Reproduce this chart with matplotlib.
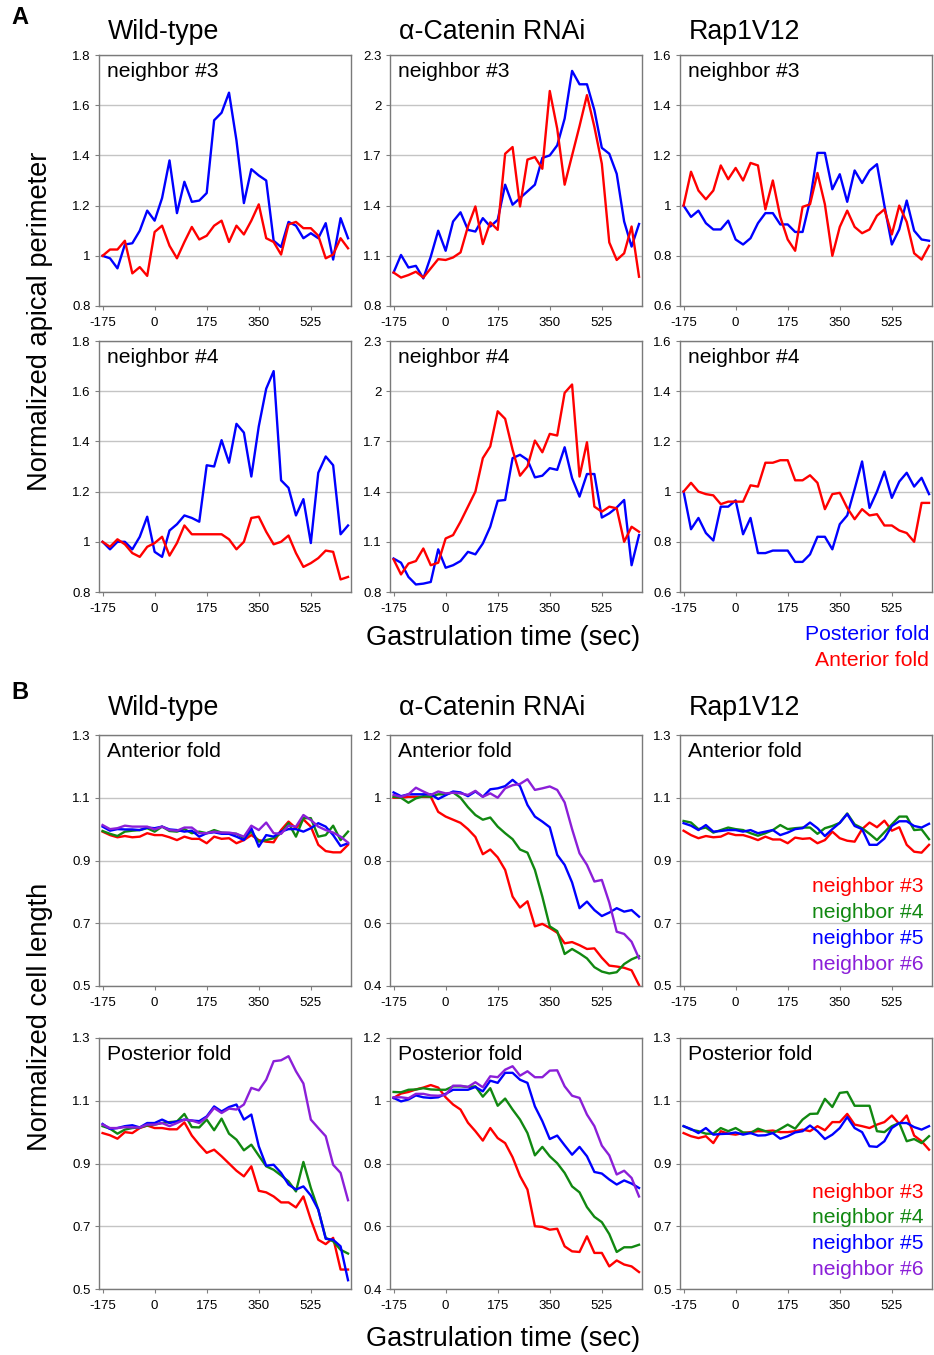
"""
plot.py

Apical perimeter and cell length of fold neighbours during gastrulation.
"""

import matplotlib
matplotlib.use("Agg")
import matplotlib.pyplot as plt
import numpy as np


plt.rcParams["font.family"] = ["Liberation Sans", "DejaVu Sans"]

# time axis (sec), one sample every 25 s
TIME_SEC = np.arange(-175, 651, 25)
X_TICKS = [-175, 0, 175, 350, 525]

GENOTYPES = ["Wild-type", "α-Catenin RNAi", "Rap1V12"]

# ---- panel A : normalized apical perimeter (posterior / anterior fold) ----
WT_N3_POST = [1.00, 0.99, 0.95, 1.045, 1.05, 1.10, 1.18, 1.14, 1.23, 1.38,
              1.17, 1.295, 1.215, 1.22, 1.25, 1.54, 1.57, 1.65, 1.46, 1.21,
              1.345, 1.32, 1.30, 1.06, 1.035, 1.135, 1.12, 1.07, 1.09, 1.07,
              1.13, 0.985, 1.15, 1.07]
WT_N3_ANT = [1.00, 1.025, 1.025, 1.06, 0.93, 0.955, 0.92, 1.095, 1.12, 1.04,
             0.99, 1.055, 1.115, 1.065, 1.08, 1.12, 1.14, 1.055, 1.12, 1.085,
             1.14, 1.205, 1.07, 1.055, 1.005, 1.125, 1.135, 1.11, 1.11, 1.08,
             0.99, 1.005, 1.07, 1.03]
WT_N4_POST = [1.00, 0.97, 1.00, 1.00, 0.97, 1.02, 1.10, 0.96, 0.94, 1.045,
              1.07, 1.105, 1.095, 1.08, 1.305, 1.30, 1.405, 1.315, 1.47, 1.435,
              1.26, 1.46, 1.61, 1.68, 1.245, 1.215, 1.105, 1.17, 0.995, 1.275,
              1.34, 1.305, 1.03, 1.065]
WT_N4_ANT = [1.00, 0.98, 1.01, 0.99, 0.955, 0.94, 0.98, 0.995, 1.02, 0.945,
             0.995, 1.065, 1.03, 1.03, 1.03, 1.03, 1.03, 1.01, 0.97, 1.00,
             1.095, 1.10, 1.04, 0.99, 1.00, 1.025, 0.955, 0.90, 0.915, 0.935,
             0.965, 0.96, 0.85, 0.86]

CAT_N3_POST = [1.00, 1.105, 1.03, 1.04, 0.965, 1.095, 1.25, 1.13, 1.305, 1.36,
               1.255, 1.245, 1.325, 1.275, 1.315, 1.525, 1.405, 1.445, 1.485, 1.525,
               1.685, 1.70, 1.76, 1.92, 2.205, 2.125, 2.125, 1.97, 1.745, 1.71,
               1.59, 1.305, 1.155, 1.29]
CAT_N3_ANT = [1.00, 0.97, 0.985, 1.005, 0.97, 1.025, 1.08, 1.075, 1.09, 1.12,
              1.275, 1.395, 1.17, 1.30, 1.255, 1.71, 1.75, 1.395, 1.675, 1.69,
              1.62, 2.085, 1.86, 1.525, 1.70, 1.875, 2.06, 1.87, 1.65, 1.18,
              1.075, 1.115, 1.275, 0.975]
CAT_N4_POST = [1.00, 0.975, 0.89, 0.845, 0.85, 0.86, 1.055, 0.945, 0.96, 0.985,
               1.04, 1.025, 1.09, 1.19, 1.345, 1.35, 1.60, 1.62, 1.59, 1.485,
               1.495, 1.54, 1.53, 1.665, 1.48, 1.37, 1.505, 1.505, 1.245, 1.27,
               1.305, 1.35, 0.96, 1.14]
CAT_N4_ANT = [0.995, 0.905, 0.97, 0.985, 1.06, 0.96, 0.975, 1.12, 1.14, 1.22,
              1.31, 1.40, 1.60, 1.67, 1.88, 1.835, 1.65, 1.495, 1.55, 1.705,
              1.635, 1.745, 1.735, 1.99, 2.04, 1.49, 1.695, 1.31, 1.28, 1.31,
              1.30, 1.10, 1.19, 1.16]

RAP_N3_POST = [1.00, 0.955, 0.98, 0.93, 0.905, 0.905, 0.94, 0.865, 0.845, 0.87,
               0.93, 0.97, 0.97, 0.925, 0.925, 0.895, 0.895, 1.02, 1.21, 1.21,
               1.065, 1.125, 1.015, 1.14, 1.09, 1.14, 1.165, 1.00, 0.845, 0.905,
               1.02, 0.90, 0.865, 0.86]
RAP_N3_ANT = [1.00, 1.135, 1.06, 1.025, 1.06, 1.16, 1.105, 1.15, 1.10, 1.17,
              1.16, 0.985, 1.10, 0.955, 0.865, 0.82, 0.995, 1.005, 1.13, 1.005,
              0.80, 0.915, 0.98, 0.915, 0.89, 0.905, 0.96, 0.985, 0.885, 1.00,
              0.935, 0.81, 0.785, 0.84]
RAP_N4_POST = [1.00, 0.85, 0.895, 0.835, 0.805, 0.94, 0.94, 0.965, 0.83, 0.895,
               0.755, 0.755, 0.765, 0.765, 0.765, 0.72, 0.72, 0.75, 0.82, 0.82,
               0.77, 0.87, 0.905, 1.01, 1.12, 0.935, 1.00, 1.08, 0.975, 1.04,
               1.075, 1.02, 1.055, 0.99]
RAP_N4_ANT = [1.00, 1.035, 1.00, 0.99, 0.985, 0.95, 0.96, 0.96, 0.96, 1.025,
              1.02, 1.115, 1.115, 1.125, 1.125, 1.045, 1.045, 1.065, 1.035, 0.93,
              0.99, 0.995, 0.935, 0.89, 0.93, 0.905, 0.91, 0.865, 0.865, 0.845,
              0.835, 0.80, 0.955, 0.955]

# ---- panel B : normalized cell length, neighbours #3..#6 ----
WT_ANT_N3 = [0.992, 0.981, 0.974, 0.978, 0.974, 0.976, 0.987, 0.981, 0.981, 0.974,
             0.965, 0.976, 0.969, 0.969, 0.955, 0.976, 0.969, 0.971, 0.955, 0.965,
             0.981, 0.965, 0.96, 0.958, 0.997, 1.024, 1.003, 1.031, 1.008, 0.95,
             0.93, 0.926, 0.926, 0.95]
WT_ANT_N4 = [0.994, 0.985, 0.978, 0.992, 0.995, 0.997, 1.003, 0.992, 1.008, 0.994,
             0.992, 1.00, 0.987, 0.992, 0.987, 0.997, 0.989, 0.987, 0.985, 0.971,
             0.992, 0.96, 0.965, 0.971, 0.987, 1.019, 0.976, 1.035, 1.035, 0.976,
             0.981, 1.011, 0.965, 0.992]
WT_ANT_N5 = [1.008, 0.995, 1.00, 0.999, 0.999, 0.997, 1.005, 1.003, 1.008, 0.999,
             0.997, 0.992, 0.995, 0.976, 0.987, 0.99, 0.985, 0.985, 0.976, 0.965,
             1.003, 0.944, 0.981, 0.976, 0.992, 1.00, 1.00, 0.992, 1.003, 1.019,
             1.008, 0.981, 0.946, 0.955]
WT_ANT_N6 = [1.013, 1.00, 1.003, 1.011, 1.008, 1.008, 1.008, 0.999, 1.008, 0.997,
             0.995, 1.005, 1.005, 0.987, 0.987, 0.992, 0.989, 0.989, 0.985, 0.976,
             1.011, 0.997, 1.021, 0.987, 0.985, 1.011, 1.008, 1.045, 1.029, 1.008,
             0.997, 0.989, 0.976, 0.957]

CAT_ANT_N3 = [1.00, 1.00, 1.003, 1.003, 1.003, 1.003, 0.955, 0.94, 0.93, 0.92,
              0.90, 0.875, 0.82, 0.835, 0.81, 0.77, 0.685, 0.65, 0.67, 0.59,
              0.598, 0.585, 0.57, 0.536, 0.54, 0.53, 0.518, 0.52, 0.49, 0.465,
              0.462, 0.458, 0.45, 0.403]
CAT_ANT_N4 = [1.003, 1.00, 0.984, 0.998, 1.005, 1.003, 1.011, 1.011, 1.017, 1.00,
              0.97, 0.945, 0.93, 0.937, 0.908, 0.887, 0.868, 0.835, 0.825, 0.77,
              0.685, 0.59, 0.575, 0.502, 0.518, 0.504, 0.488, 0.46, 0.446, 0.44,
              0.444, 0.47, 0.485, 0.495]
CAT_ANT_N5 = [1.017, 1.005, 1.011, 1.011, 1.011, 1.011, 0.996, 1.008, 1.02, 1.017,
              1.005, 1.02, 1.003, 1.027, 1.03, 1.037, 1.057, 1.037, 0.977, 0.94,
              0.924, 0.906, 0.818, 0.786, 0.73, 0.648, 0.669, 0.642, 0.623, 0.634,
              0.648, 0.637, 0.642, 0.621]
CAT_ANT_N6 = [1.009, 1.003, 1.011, 1.032, 1.02, 1.009, 1.02, 1.014, 1.016, 1.014,
              1.009, 1.022, 1.003, 1.014, 1.00, 1.03, 1.04, 1.044, 1.059, 1.025,
              1.03, 1.036, 1.025, 0.985, 0.90, 0.823, 0.786, 0.733, 0.738, 0.666,
              0.573, 0.566, 0.541, 0.488]

RAP_ANT_N3 = [0.995, 0.981, 0.971, 0.978, 0.974, 0.976, 0.987, 0.981, 0.981, 0.974,
              0.965, 0.976, 0.967, 0.967, 0.955, 0.973, 0.969, 0.971, 0.955, 0.965,
              0.992, 0.971, 0.963, 0.96, 1.00, 1.021, 1.006, 1.027, 0.995, 1.006,
              0.95, 0.928, 0.925, 0.95]
RAP_ANT_N4 = [1.026, 1.021, 1.00, 1.005, 0.989, 0.997, 1.005, 1.00, 0.997, 0.987,
              0.979, 0.987, 0.997, 1.013, 1.00, 1.003, 1.005, 1.005, 0.985, 1.003,
              1.01, 1.02, 1.05, 1.015, 1.003, 0.985, 0.965, 0.99, 1.015, 1.04,
              1.04, 0.997, 0.999, 0.968]
RAP_ANT_N5 = [1.019, 1.011, 0.997, 1.013, 0.992, 0.994, 0.997, 0.997, 0.992, 0.997,
              0.987, 0.992, 0.997, 0.981, 0.989, 1.00, 1.003, 1.021, 1.003, 0.978,
              1.00, 1.02, 1.048, 1.01, 1.00, 0.95, 0.95, 0.97, 1.01, 1.025,
              1.025, 1.01, 1.005, 1.017]

WT_POST_N3 = [0.997, 0.99, 0.979, 1.00, 0.997, 1.013, 1.021, 1.013, 1.013, 1.009,
              1.009, 1.031, 0.989, 0.96, 0.934, 0.944, 0.923, 0.90, 0.877, 0.859,
              0.891, 0.813, 0.808, 0.795, 0.776, 0.776, 0.76, 0.795, 0.721, 0.657,
              0.643, 0.663, 0.562, 0.562]
WT_POST_N4 = [1.019, 1.011, 0.995, 1.008, 1.013, 1.015, 1.021, 1.024, 1.029, 1.032,
              1.034, 1.058, 1.016, 1.015, 1.04, 1.006, 1.043, 0.995, 0.976, 0.942,
              0.96, 0.925, 0.891, 0.88, 0.862, 0.843, 0.811, 0.905, 0.822, 0.753,
              0.663, 0.652, 0.625, 0.613]
WT_POST_N5 = [1.026, 1.01, 1.013, 1.019, 1.022, 1.015, 1.029, 1.029, 1.04, 1.029,
              1.034, 1.04, 1.037, 1.035, 1.05, 1.082, 1.066, 1.08, 1.088, 1.04,
              1.056, 0.955, 0.893, 0.896, 0.87, 0.833, 0.817, 0.827, 0.798, 0.753,
              0.66, 0.657, 0.636, 0.528]
WT_POST_N6 = [1.024, 1.013, 1.013, 1.016, 1.015, 1.015, 1.024, 1.024, 1.029, 1.019,
              1.029, 1.04, 1.037, 1.029, 1.047, 1.077, 1.061, 1.075, 1.072, 1.088,
              1.141, 1.133, 1.167, 1.226, 1.229, 1.242, 1.194, 1.155, 1.04, 1.013,
              0.987, 0.896, 0.87, 0.783]

CAT_POST_N3 = [1.009, 1.023, 1.028, 1.036, 1.042, 1.05, 1.042, 1.011, 0.988, 0.972,
               0.93, 0.903, 0.873, 0.913, 0.881, 0.865, 0.82, 0.76, 0.717, 0.60,
               0.598, 0.589, 0.592, 0.536, 0.52, 0.518, 0.568, 0.515, 0.515, 0.472,
               0.491, 0.478, 0.472, 0.454]
CAT_POST_N4 = [1.028, 1.027, 1.035, 1.036, 1.04, 1.036, 1.035, 1.035, 1.046, 1.046,
               1.044, 1.046, 1.013, 1.04, 0.984, 1.007, 0.972, 0.94, 0.897, 0.826,
               0.853, 0.823, 0.801, 0.77, 0.727, 0.708, 0.661, 0.63, 0.613, 0.575,
               0.518, 0.533, 0.533, 0.541]
CAT_POST_N5 = [1.009, 0.998, 1.004, 1.017, 1.011, 1.009, 1.011, 1.022, 1.035, 1.035,
               1.035, 1.044, 1.03, 1.064, 1.057, 1.089, 1.089, 1.067, 1.057, 0.982,
               0.935, 0.878, 0.889, 0.858, 0.828, 0.853, 0.823, 0.773, 0.768, 0.749,
               0.733, 0.746, 0.736, 0.722]
CAT_POST_N6 = [1.011, 1.011, 1.008, 1.022, 1.022, 1.017, 1.016, 1.019, 1.048, 1.048,
               1.044, 1.059, 1.043, 1.078, 1.075, 1.099, 1.11, 1.08, 1.094, 1.075,
               1.075, 1.096, 1.097, 1.046, 1.016, 1.009, 0.956, 0.919, 0.857, 0.826,
               0.765, 0.777, 0.754, 0.695]

RAP_POST_N3 = [0.997, 0.987, 0.981, 0.987, 0.965, 1.003, 0.995, 0.992, 0.997, 1.00,
               1.003, 1.003, 1.005, 1.00, 1.00, 1.003, 1.008, 1.003, 1.019, 1.006,
               1.032, 1.032, 1.058, 1.024, 1.019, 1.013, 1.024, 1.032, 1.053, 1.026,
               1.053, 0.989, 0.971, 0.944]
RAP_POST_N4 = [1.019, 1.008, 1.003, 0.995, 0.995, 1.013, 1.003, 1.013, 0.999, 0.997,
               1.011, 1.003, 0.997, 1.01, 1.024, 1.011, 1.04, 1.058, 1.059, 1.106,
               1.08, 1.125, 1.128, 1.084, 1.084, 1.084, 1.003, 1.00, 1.019, 1.029,
               0.971, 0.978, 0.965, 0.987]
RAP_POST_N5 = [1.019, 1.01, 0.997, 1.013, 0.992, 0.994, 0.995, 0.999, 0.992, 0.997,
               0.989, 0.99, 0.997, 0.979, 0.987, 0.999, 1.003, 1.021, 1.003, 0.978,
               0.992, 1.013, 1.048, 1.013, 1.00, 0.955, 0.953, 0.971, 1.013, 1.029,
               1.029, 1.016, 1.008, 1.019]

# y ticks per column
PERIM_YTICKS = [[0.8, 1.0, 1.2, 1.4, 1.6, 1.8],
                [0.8, 1.1, 1.4, 1.7, 2.0, 2.3],
                [0.6, 0.8, 1.0, 1.2, 1.4, 1.6]]
LENGTH_YTICKS = [[0.5, 0.7, 0.9, 1.1, 1.3],
                 [0.4, 0.6, 0.8, 1.0, 1.2],
                 [0.5, 0.7, 0.9, 1.1, 1.3]]

FOLD_LABELS = ["Posterior fold", "Anterior fold"]
NEIGHBOR_LABELS = ["neighbor #3", "neighbor #4", "neighbor #5", "neighbor #6"]

BLUE = "#0000ff"
RED = "#ff0000"
GREEN = "#118811"
PURPLE = "#8b1fd8"
FOLD_COLORS = [BLUE, RED]
NEIGHBOR_COLORS = [RED, GREEN, BLUE, PURPLE]

W, H = 934, 1355
COL_LEFT = [99, 390, 680]
ROW_TOP = [55, 341, 735, 1038]
AX_W, AX_H = 252, 251


def make_axes(fig, row, col):
    """
    Create an axis from pixel coordinates of the reference layout.
    """
    left = COL_LEFT[col] / W
    bottom = 1 - (ROW_TOP[row] + AX_H) / H
    return fig.add_axes([left, bottom, AX_W / W, AX_H / H])


def style_axis(ax, yticks, label):
    """
    Excel-like look: grey frame, horizontal grid, tiny ticks.
    """
    ax.set_xlim(-187, 660)
    ax.set_ylim(yticks[0], yticks[-1])
    ax.set_xticks(X_TICKS)
    ax.set_xticklabels([str(t) for t in X_TICKS])
    ax.set_yticks(yticks)
    ax.set_yticklabels([f"{v:g}" for v in yticks])
    ax.tick_params(labelsize=9.5, length=3, width=0.8, color="#808080", pad=3)
    ax.tick_params(axis="x", pad=5)
    for sp in ax.spines.values():
        sp.set_color("#7a7a7a")
        sp.set_linewidth(1.0)
    ax.grid(axis="y", color="#c4c4c4", linewidth=1.0)
    ax.set_axisbelow(True)
    ax.text(0.033, 0.912, label, transform=ax.transAxes, fontsize=15.2,
            va="baseline", ha="left")


fig = plt.figure(figsize=(W / 100, H / 100), dpi=100)

perim_series = [
    [(WT_N3_POST, WT_N3_ANT), (CAT_N3_POST, CAT_N3_ANT), (RAP_N3_POST, RAP_N3_ANT)],
    [(WT_N4_POST, WT_N4_ANT), (CAT_N4_POST, CAT_N4_ANT), (RAP_N4_POST, RAP_N4_ANT)],
]
length_series = [
    [(WT_ANT_N3, WT_ANT_N4, WT_ANT_N5, WT_ANT_N6),
     (CAT_ANT_N3, CAT_ANT_N4, CAT_ANT_N5, CAT_ANT_N6),
     (RAP_ANT_N3, RAP_ANT_N4, RAP_ANT_N5)],
    [(WT_POST_N3, WT_POST_N4, WT_POST_N5, WT_POST_N6),
     (CAT_POST_N3, CAT_POST_N4, CAT_POST_N5, CAT_POST_N6),
     (RAP_POST_N3, RAP_POST_N4, RAP_POST_N5)],
]

for r in range(2):
    for c in range(3):
        ax = make_axes(fig, r, c)
        for vals, color in zip(perim_series[r][c], FOLD_COLORS):
            ax.plot(TIME_SEC, vals, color=color, lw=1.7)
        style_axis(ax, PERIM_YTICKS[c], f"neighbor #{r + 3}")

for r in range(2):
    for c in range(3):
        ax = make_axes(fig, r + 2, c)
        for vals, color in zip(length_series[r][c], NEIGHBOR_COLORS):
            ax.plot(TIME_SEC, vals, color=color, lw=1.7)
        style_axis(ax, LENGTH_YTICKS[c], ["Anterior fold", "Posterior fold"][r])

# column titles
for c, name in enumerate(GENOTYPES):
    for base in (39, 715):
        fig.text((COL_LEFT[c] + 9) / W, 1 - base / H, name, fontsize=19.3,
                 ha="left", va="baseline")

# panel letters
fig.text(20 / W, 1 - 18 / H, "A", fontsize=17, fontweight="bold", ha="center", va="center")
fig.text(20 / W, 1 - 693 / H, "B", fontsize=17, fontweight="bold", ha="center", va="center")

# axis titles
fig.text(40 / W, 1 - 321 / H, "Normalized apical perimeter", fontsize=19.6,
         rotation=90, ha="center", va="center")
fig.text(40 / W, 1 - 1017 / H, "Normalized cell length", fontsize=19.6,
         rotation=90, ha="center", va="center")
for yc in (638, 1339):
    fig.text(503 / W, 1 - yc / H, "Gastrulation time (sec)", fontsize=19.6,
             ha="center", va="center")

# legends as coloured text
for i, (lab, col) in enumerate(zip(FOLD_LABELS, FOLD_COLORS)):
    fig.text(929 / W, 1 - (634 + 26 * i) / H, lab, color=col, fontsize=15.2,
             ha="right", va="center")
for y0 in (887, 1192):
    for i, (lab, col) in enumerate(zip(NEIGHBOR_LABELS, NEIGHBOR_COLORS)):
        fig.text(924 / W, 1 - (y0 + 25.7 * i) / H, lab, color=col, fontsize=15.2,
                 ha="right", va="center")

fig.savefig("out.png", dpi=100)
